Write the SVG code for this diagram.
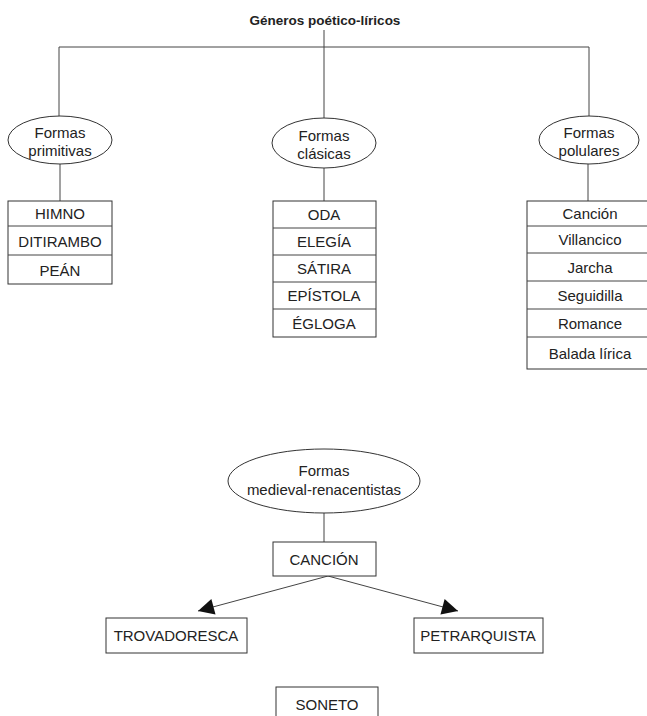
<svg xmlns="http://www.w3.org/2000/svg" width="647" height="716" viewBox="0 0 647 716">
  <style>
    text { font-family: "Liberation Sans", Arial, sans-serif; font-size: 15px; fill: #222; text-anchor: middle; }
    .title { font-size: 13.5px; font-weight: bold; }
    .shape { fill: #fff; stroke: #333; stroke-width: 1; }
    .line { fill: none; stroke: #444; stroke-width: 1; }
    .row { stroke: #444; stroke-width: 1; }
  </style>
  <defs>
    <marker id="arrow" viewBox="0 0 10 10" refX="10" refY="5" markerWidth="20" markerHeight="16" markerUnits="userSpaceOnUse" orient="auto">
      <path d="M0,0 L10,5 L0,10 Z" fill="#111"/>
    </marker>
  </defs>
  <rect width="647" height="716" fill="#fff"/>

  <!-- connectors -->
  <g id="connectors">
    <path class="line" d="M324,30 V118"/>
    <path class="line" d="M59,47 H589"/>
    <path class="line" d="M59,47 V117"/>
    <path class="line" d="M589,47 V117"/>
    <path class="line" d="M60,164 V201"/>
    <path class="line" d="M324,168 V201"/>
    <path class="line" d="M588,164 V201"/>
    <path class="line" d="M324,513 V542"/>
    <path class="line" d="M328,576 L198,611" marker-end="url(#arrow)"/>
    <path class="line" d="M328,576 L458,611" marker-end="url(#arrow)"/>
  </g>

  <g id="title">
    <text class="title" x="325" y="25">Géneros poético-líricos</text>
  </g>

  <!-- primitive forms -->
  <g id="formas-primitivas">
    <ellipse class="shape" cx="60" cy="140" rx="52" ry="24"/>
    <text x="60" y="138">Formas</text>
    <text x="60" y="156">primitivas</text>
  </g>
  <g id="lista-primitivas">
    <rect class="shape" x="8" y="201" width="104" height="83"/>
    <line class="row" x1="8" y1="226" x2="112" y2="226"/>
    <line class="row" x1="8" y1="255" x2="112" y2="255"/>
    <text x="60" y="219">HIMNO</text>
    <text x="60" y="247">DITIRAMBO</text>
    <text x="60" y="276">PEÁN</text>
  </g>

  <!-- classical forms -->
  <g id="formas-clasicas">
    <ellipse class="shape" cx="324" cy="143" rx="52" ry="25"/>
    <text x="324" y="141">Formas</text>
    <text x="324" y="159">clásicas</text>
  </g>
  <g id="lista-clasicas">
    <rect class="shape" x="273" y="201" width="103" height="136"/>
    <line class="row" x1="273" y1="228" x2="376" y2="228"/>
    <line class="row" x1="273" y1="255" x2="376" y2="255"/>
    <line class="row" x1="273" y1="282" x2="376" y2="282"/>
    <line class="row" x1="273" y1="309" x2="376" y2="309"/>
    <text x="324" y="220">ODA</text>
    <text x="324" y="247">ELEGÍA</text>
    <text x="324" y="274">SÁTIRA</text>
    <text x="324" y="301">EPÍSTOLA</text>
    <text x="324" y="329">ÉGLOGA</text>
  </g>

  <!-- popular forms -->
  <g id="formas-populares">
    <ellipse class="shape" cx="589" cy="140" rx="50" ry="24"/>
    <text x="589" y="138">Formas</text>
    <text x="589" y="156">polulares</text>
  </g>
  <g id="lista-populares">
    <rect class="shape" x="527" y="201" width="125" height="168"/>
    <line class="row" x1="527" y1="226" x2="647" y2="226"/>
    <line class="row" x1="527" y1="253" x2="647" y2="253"/>
    <line class="row" x1="527" y1="281" x2="647" y2="281"/>
    <line class="row" x1="527" y1="309" x2="647" y2="309"/>
    <line class="row" x1="527" y1="337" x2="647" y2="337"/>
    <text x="590" y="219">Canción</text>
    <text x="590" y="245">Villancico</text>
    <text x="590" y="273">Jarcha</text>
    <text x="590" y="301">Seguidilla</text>
    <text x="590" y="329">Romance</text>
    <text x="590" y="359">Balada lírica</text>
  </g>

  <!-- medieval / renaissance forms -->
  <g id="formas-medievales">
    <ellipse class="shape" cx="324" cy="481" rx="96" ry="32"/>
    <text x="324" y="476">Formas</text>
    <text x="324" y="495">medieval-renacentistas</text>
  </g>
  <g id="cancion">
    <rect class="shape" x="273" y="542" width="103" height="34"/>
    <text x="324" y="565">CANCIÓN</text>
  </g>
  <g id="trovadoresca">
    <rect class="shape" x="106" y="618" width="141" height="35"/>
    <text x="176" y="641">TROVADORESCA</text>
  </g>
  <g id="petrarquista">
    <rect class="shape" x="414" y="618" width="129" height="35"/>
    <text x="478" y="641">PETRARQUISTA</text>
  </g>
  <g id="soneto">
    <rect class="shape" x="276" y="687" width="102" height="30"/>
    <text x="327" y="710">SONETO</text>
  </g>
</svg>
